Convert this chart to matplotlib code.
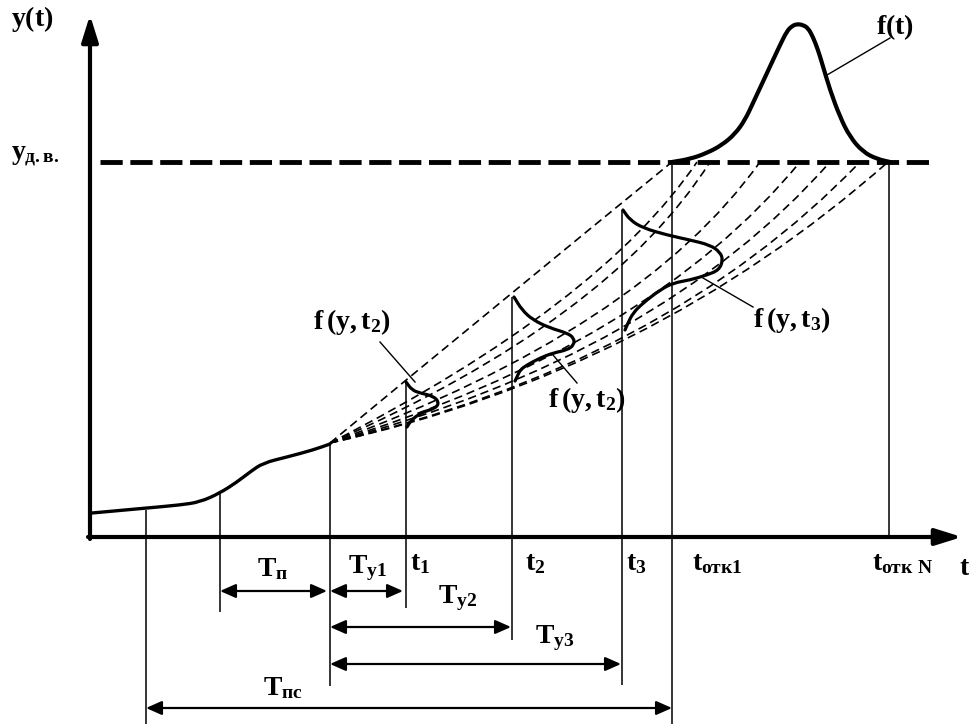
import matplotlib
matplotlib.use("Agg")
import matplotlib.pyplot as plt
from matplotlib.path import Path
from matplotlib.patches import PathPatch

plt.rcParams['lines.scale_dashes'] = False
plt.rcParams['mathtext.fontset'] = 'custom'
plt.rcParams['mathtext.rm'] = 'Liberation Serif:bold'
plt.rcParams['mathtext.it'] = 'Liberation Serif:bold'
plt.rcParams['mathtext.bf'] = 'Liberation Serif:bold'
plt.rcParams['mathtext.sf'] = 'Liberation Serif:bold'

# ---------------- schematic data (time to the right, level downward in screen units) ----
axis_origin = (90, 537)
axis_t_end = 962
axis_y_end = 15
threshold_level = 162
threshold_t = (100, 930)

# degradation trend up to the current moment
trend_t = [92, 147, 180, 200, 220, 237, 250, 263, 287, 313, 330]
trend_y = [513, 508, 505, 502, 493, 482, 472, 463, 457, 450, 444]

# failure-time density f(t)
bell_t = [672, 690, 707, 722, 735, 745, 753, 767, 780, 787, 792, 797, 803, 808, 813, 818, 822, 830, 840, 850, 863, 877, 890]
bell_y = [162, 159, 153, 145, 134, 120, 103, 73, 45, 31, 26, 24, 25, 28, 37, 50, 63, 90, 117, 137, 152, 159, 162]

# state densities f(y,t1), f(y,t2), f(y,t3)
dens1_t = [406, 412, 420, 433, 439, 436, 423, 415, 410, 407]
dens1_y = [382, 390, 393, 396, 402, 408, 412, 417, 422, 427]
dens2_t = [514, 522, 533, 550, 567, 574, 574, 567, 553, 540, 527, 520, 517, 515]
dens2_y = [297, 310, 320, 328, 333, 338, 345, 350, 353, 358, 365, 370, 377, 381]
dens3_t = [623, 630, 643, 667, 690, 710, 720, 723, 719, 707, 690, 673, 660, 643, 633, 628, 625]
dens3_y = [210, 220, 228, 235, 240, 245, 252, 260, 270, 275, 280, 283, 290, 303, 313, 323, 330]

# forecast trajectories (start point, end on threshold, bend point)
fan_start = (330, 443)
fan_end_t = [672, 697, 710, 760, 800, 830, 860, 888]
fan_ctrl_t = [505, 600, 610, 640, 650, 660, 665, 650]
fan_ctrl_y = [298, 305, 320, 330, 345, 355, 365, 372]

# vertical reference lines: time, top, bottom
vline_t = [146, 220, 330, 406, 512, 622, 672, 889]
vline_top = [510, 492, 444, 382, 297, 210, 162, 162]
vline_bot = [724, 612, 686, 608, 640, 685, 724, 537]

# interval dimension arrows
dim_t0 = [220, 330, 330, 330, 146]
dim_t1 = [327, 403, 511, 621, 672]
dim_y = [591, 591, 627, 664, 708]
dim_labels = [r'$T_{п}$', r'$T_{у1}$', r'$T_{у2}$', r'$T_{у3}$', r'$T_{пс}$']
dim_label_t = [273, 367, 458, 555, 283]
dim_label_y = [568, 568, 598, 638, 687]

# time labels on the axis
tick_labels = [r'$t_{1}$', r'$t_{2}$', r'$t_{3}$', r'$t_{отк1}$', r'$t_{отк\ N}$', r'$t$']
tick_label_t = [420, 535, 636, 717, 902, 965]
tick_label_y = [562, 562, 562, 562, 562, 567]

# annotation labels with leader lines
ann_labels = [r'$f(t)$', r'$f\,(y,t_{2})$', r'$f\,(y,t_{2})$', r'$f\,(y,t_{3})$']
ann_label_t = [895, 352, 587, 792]
ann_label_y = [27, 322, 400, 320]
ann_from = [(890, 38), (380, 342), (553, 355), (703, 278)]
ann_to = [(827, 75), (415, 382), (577, 383), (753, 307)]


def smooth_curve(xs, ys):
    """Path through the read points, corners rounded with quadratic segments."""
    pts = list(zip(xs, ys))
    verts = [pts[0]]
    codes = [Path.MOVETO]
    if len(pts) > 2:
        first_mid = ((pts[0][0] + pts[1][0]) / 2, (pts[0][1] + pts[1][1]) / 2)
        verts.append(first_mid)
        codes.append(Path.LINETO)
    for i in range(1, len(pts) - 1):
        mid = ((pts[i][0] + pts[i + 1][0]) / 2, (pts[i][1] + pts[i + 1][1]) / 2)
        verts += [pts[i], mid]
        codes += [Path.CURVE3, Path.CURVE3]
    verts.append(pts[-1])
    codes.append(Path.LINETO)
    return Path(verts, codes)


# ---------------- drawing ----------------
fig = plt.figure(figsize=(9.7, 7.27), dpi=100)
ax = fig.add_axes([0, 0, 1, 1])
ax.set_xlim(0, 970)
ax.set_ylim(727, 0)
ax.axis('off')

# axes with arrows
ax.annotate('', xy=(axis_t_end, axis_origin[1]), xytext=(axis_origin[0] - 2, axis_origin[1]),
            arrowprops=dict(arrowstyle='-|>,head_length=0.8,head_width=0.25', lw=3,
                            color='k', shrinkA=0, shrinkB=0, mutation_scale=20))
ax.annotate('', xy=(axis_origin[0], axis_y_end), xytext=(axis_origin[0], axis_origin[1] + 2),
            arrowprops=dict(arrowstyle='-|>,head_length=0.8,head_width=0.25', lw=3,
                            color='k', shrinkA=0, shrinkB=0, mutation_scale=20))

# threshold
ax.plot(threshold_t, [threshold_level] * 2, color='k', lw=3.5, dashes=(16, 5.5),
        solid_capstyle='butt', dash_capstyle='butt')

# vertical lines
ax.vlines(vline_t, vline_top, vline_bot, color='k', lw=1.1)

# forecast fan
for te, ct, cy in zip(fan_end_t, fan_ctrl_t, fan_ctrl_y):
    p = Path([fan_start, (ct, cy), (te, threshold_level)],
             [Path.MOVETO, Path.CURVE3, Path.CURVE3])
    ax.add_patch(PathPatch(p, fill=False, edgecolor='k', lw=1.2, linestyle=(0, (6, 3.5))))

# trend, densities, f(t)
for tt, yy, lw in [(trend_t, trend_y, 2.4), (dens1_t, dens1_y, 2.3), (dens2_t, dens2_y, 2.3),
                   (dens3_t, dens3_y, 2.3), (bell_t, bell_y, 3.0)]:
    ax.add_patch(PathPatch(smooth_curve(tt, yy), fill=False, edgecolor='k', lw=lw,
                           joinstyle='round', capstyle='round'))

# dimension arrows
for t0, t1, y, lab, lx, ly in zip(dim_t0, dim_t1, dim_y, dim_labels, dim_label_t, dim_label_y):
    ax.annotate('', xy=(t1, y), xytext=(t0, y),
                arrowprops=dict(arrowstyle='<|-|>,head_length=0.95,head_width=0.42', lw=1.6,
                                color='k', shrinkA=0, shrinkB=0, mutation_scale=10))
    ax.text(lx, ly, lab, fontsize=20, ha='center', va='center')

# axis labels
for lab, lx, ly in zip(tick_labels, tick_label_t, tick_label_y):
    ax.text(lx, ly, lab, fontsize=20, ha='center', va='center')
ax.text(11, 19, r'$y(t)$', fontsize=20, ha='left', va='center')
ax.text(11, 155, r'$y_{д.в.}$', fontsize=20, ha='left', va='center')

# annotations
for lab, lx, ly, p0, p1 in zip(ann_labels, ann_label_t, ann_label_y, ann_from, ann_to):
    ax.text(lx, ly, lab, fontsize=20, ha='center', va='center')
    ax.plot([p0[0], p1[0]], [p0[1], p1[1]], color='k', lw=1.0)

fig.savefig('out.png', dpi=100)
